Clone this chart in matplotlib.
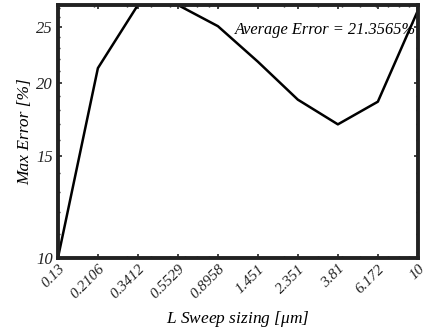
import numpy as np
import matplotlib.pyplot as plt
from matplotlib.ticker import FixedLocator, NullFormatter

plt.rcParams['font.family'] = 'Liberation Serif'
plt.rcParams['mathtext.fontset'] = 'custom'
plt.rcParams['mathtext.it'] = 'Liberation Serif:italic'
plt.rcParams['mathtext.rm'] = 'Liberation Serif:italic'

# L sweep sizes (um) and max error (%)
l_size = [0.13, 0.2106, 0.3412, 0.5529, 0.8958, 1.451, 2.351, 3.81, 6.172, 10]
tick_labels = ['0.13', '0.2106', '0.3412', '0.5529', '0.8958', '1.451', '2.351', '3.81', '6.172', '10']
max_err = [10.0, 21.25, 27.3, 27.3, 25.1, 21.8, 18.75, 17.0, 18.6, 26.7]
avg_err = 21.3565

fig = plt.figure(figsize=(4.29, 3.33), dpi=100)
ax = fig.add_axes([0.135, 0.225, 0.839, 0.76])

ax.plot(l_size, max_err, color='black', lw=1.8)
ax.set_xscale('log')
ax.set_yscale('log')
ax.set_xlim(0.13, 10)
ax.set_ylim(10, max(max_err))

ax.xaxis.set_major_locator(FixedLocator(l_size))
ax.set_xticklabels(tick_labels, fontstyle='italic', fontsize=11, rotation=45,
                   ha='right', rotation_mode='anchor')
ax.xaxis.set_minor_formatter(NullFormatter())

ax.yaxis.set_major_locator(FixedLocator([10, 15, 20, 25]))
ax.set_yticklabels(['10', '15', '20', '25'], fontstyle='italic', fontsize=12)
ax.yaxis.set_minor_locator(FixedLocator(np.arange(11, 28, 1)))
ax.yaxis.set_minor_formatter(NullFormatter())

ax.tick_params(which='both', direction='in', top=True, right=True, colors='#222222')
ax.tick_params(which='major', length=3, width=1.2)
ax.tick_params(which='minor', length=1.5, width=1)
ax.tick_params(axis='x', which='major', pad=3)
for s in ax.spines.values():
    s.set_linewidth(2.8)
    s.set_color('#222222')

ax.set_xlabel(r'L Sweep sizing [$\mu$m]', style='italic', fontsize=12.5, labelpad=6)
ax.set_ylabel('Max Error [%]', style='italic', fontsize=12.5, labelpad=2)
ax.text(0.995, 0.9, 'Average Error = %.4f%%' % avg_err, transform=ax.transAxes,
        ha='right', va='center', style='italic', fontsize=11.8)
fig.text(0.5, -0.025, '(c)', ha='center', va='center', fontsize=12)

fig.savefig('out.png', dpi=100)
